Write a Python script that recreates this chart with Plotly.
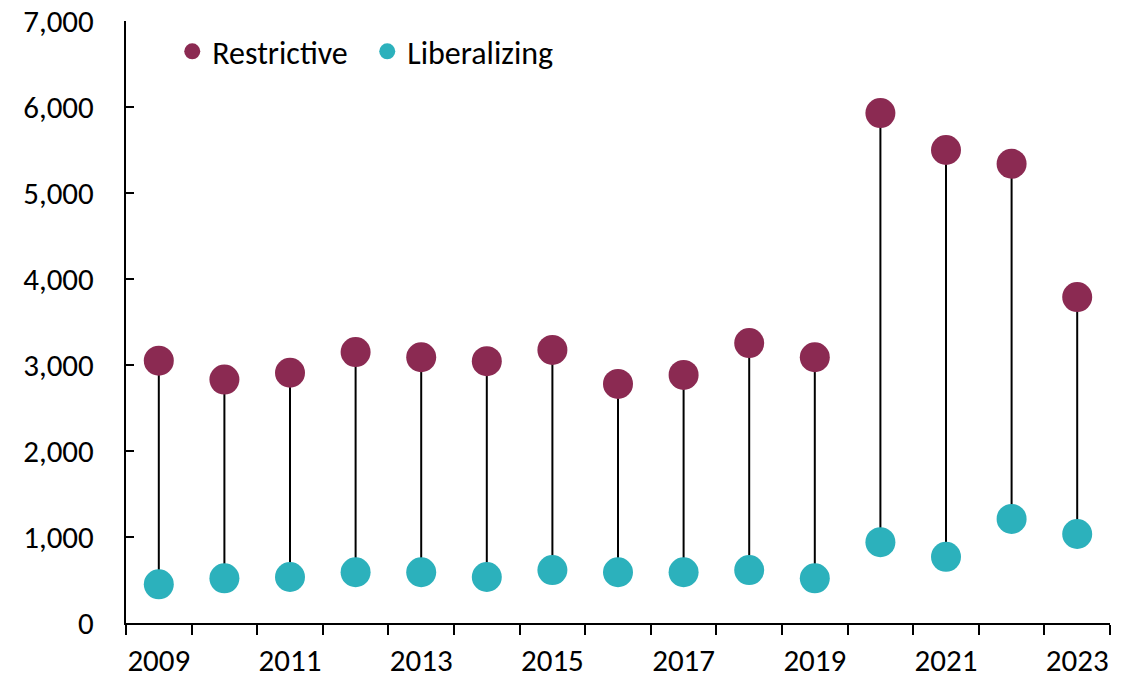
import plotly.graph_objects as go

years = [str(y) for y in range(2009, 2024)]
restrictive = [3050, 2830, 2910, 3150, 3090, 3045, 3175, 2780, 2885, 3255, 3090, 5930, 5500, 5340, 3790]
liberalizing = [450, 520, 535, 590, 590, 535, 615, 590, 590, 615, 520, 940, 770, 1210, 1035]
tick_text = [y if i % 2 == 0 else "" for i, y in enumerate(years)]

RESTRICT_COLOR = "#8B2A52"
LIBERAL_COLOR = "#2CB1BC"
FONT = "Calibri, Carlito, Lato, sans-serif"
TICK_FONT = dict(family=FONT, size=31, color="black")

# connector segments between the two values of each year
seg_x, seg_y = [], []
for y, lo, hi in zip(years, liberalizing, restrictive):
    seg_x += [y, y, None]
    seg_y += [lo, hi, None]

fig = go.Figure()
fig.add_trace(go.Scatter(
    x=seg_x, y=seg_y, mode="lines",
    line=dict(color="black", width=2),
    showlegend=False, hoverinfo="skip",
))
fig.add_trace(go.Scatter(
    x=years, y=restrictive, mode="markers", name="Restrictive",
    marker=dict(color=RESTRICT_COLOR, size=30),
))
fig.add_trace(go.Scatter(
    x=years, y=liberalizing, mode="markers", name="Liberalizing",
    marker=dict(color=LIBERAL_COLOR, size=30),
))

fig.update_layout(
    width=1128, height=679,
    margin=dict(l=126, r=18, t=21, b=56, autoexpand=False),
    paper_bgcolor="white", plot_bgcolor="white",
    font=dict(family=FONT, size=31, color="black"),
    legend=dict(
        orientation="h", x=0.047, y=0.995, xanchor="left", yanchor="top",
        font=dict(family=FONT, size=32, color="black"),
        bgcolor="rgba(0,0,0,0)", itemwidth=30, entrywidth=150,
    ),
    xaxis=dict(
        type="category", categoryorder="array", categoryarray=years,
        tickmode="array", tickvals=years, ticktext=tick_text,
        tickson="boundaries", ticks="outside", ticklen=10, tickwidth=2,
        tickcolor="black", showline=True, linecolor="black", linewidth=2,
        showgrid=False, zeroline=False, ticklabelstandoff=9, tickangle=0,
        tickfont=TICK_FONT,
        range=[-0.5, len(years) - 0.5], automargin=False,
    ),
    yaxis=dict(
        range=[0, 7000], dtick=1000, tickformat=",",
        ticks="inside", ticklen=8, tickwidth=2, tickcolor="black",
        showline=True, linecolor="black", linewidth=2,
        showgrid=False, zeroline=False, ticklabelstandoff=24,
        tickfont=TICK_FONT, automargin=False,
    ),
)

fig.write_html("out.html")
